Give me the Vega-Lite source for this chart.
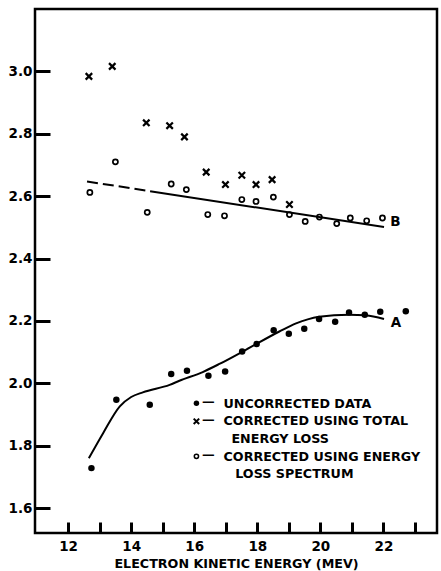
{
  "$schema": "https://vega.github.io/schema/vega-lite/v6.json",
  "width": 402,
  "height": 524,
  "autosize": "none",
  "padding": {"left": 35, "top": 9, "right": 4, "bottom": 38},
  "background": "white",
  "config": {
    "view": {"stroke": "black", "strokeWidth": 2.5},
    "axis": {
      "labelFont": "DejaVu Sans", "labelFontWeight": "bold", "labelFontSize": 13.5, "labelColor": "black",
      "titleFont": "DejaVu Sans", "titleFontWeight": "bold", "titleFontSize": 12.7, "titleColor": "black"
    }
  },
  "datasets": {
    "pts": [
      {"series": "dot", "e": 12.74, "r": 1.728}, {"series": "dot", "e": 13.53, "r": 1.947},
      {"series": "dot", "e": 14.59, "r": 1.931}, {"series": "dot", "e": 15.27, "r": 2.030},
      {"series": "dot", "e": 15.77, "r": 2.040}, {"series": "dot", "e": 16.45, "r": 2.024},
      {"series": "dot", "e": 16.98, "r": 2.038}, {"series": "dot", "e": 17.52, "r": 2.102},
      {"series": "dot", "e": 17.98, "r": 2.126}, {"series": "dot", "e": 18.52, "r": 2.170},
      {"series": "dot", "e": 19.00, "r": 2.159}, {"series": "dot", "e": 19.49, "r": 2.175},
      {"series": "dot", "e": 19.96, "r": 2.206}, {"series": "dot", "e": 20.47, "r": 2.197},
      {"series": "dot", "e": 20.91, "r": 2.227}, {"series": "dot", "e": 21.41, "r": 2.220},
      {"series": "dot", "e": 21.90, "r": 2.229}, {"series": "dot", "e": 22.71, "r": 2.231},
      {"series": "cross", "e": 12.66, "r": 2.984}, {"series": "cross", "e": 13.40, "r": 3.016},
      {"series": "cross", "e": 14.48, "r": 2.835}, {"series": "cross", "e": 15.22, "r": 2.826},
      {"series": "cross", "e": 15.69, "r": 2.790}, {"series": "cross", "e": 16.38, "r": 2.677},
      {"series": "cross", "e": 16.99, "r": 2.637}, {"series": "cross", "e": 17.51, "r": 2.667},
      {"series": "cross", "e": 17.96, "r": 2.637}, {"series": "cross", "e": 18.47, "r": 2.653},
      {"series": "cross", "e": 19.02, "r": 2.573},
      {"series": "circle", "e": 12.69, "r": 2.612}, {"series": "circle", "e": 13.50, "r": 2.710},
      {"series": "circle", "e": 14.51, "r": 2.548}, {"series": "circle", "e": 15.27, "r": 2.639},
      {"series": "circle", "e": 15.75, "r": 2.621}, {"series": "circle", "e": 16.43, "r": 2.541},
      {"series": "circle", "e": 16.96, "r": 2.537}, {"series": "circle", "e": 17.51, "r": 2.589},
      {"series": "circle", "e": 17.96, "r": 2.583}, {"series": "circle", "e": 18.51, "r": 2.597},
      {"series": "circle", "e": 19.02, "r": 2.541}, {"series": "circle", "e": 19.52, "r": 2.519},
      {"series": "circle", "e": 19.97, "r": 2.533}, {"series": "circle", "e": 20.52, "r": 2.512},
      {"series": "circle", "e": 20.95, "r": 2.530}, {"series": "circle", "e": 21.47, "r": 2.521},
      {"series": "circle", "e": 21.97, "r": 2.530}
    ],
    "curves": [
      {"curve": "A", "e": 12.66, "r": 1.760}, {"curve": "A", "e": 13.11, "r": 1.840},
      {"curve": "A", "e": 13.64, "r": 1.926}, {"curve": "A", "e": 14.00, "r": 1.956},
      {"curve": "A", "e": 14.37, "r": 1.971}, {"curve": "A", "e": 15.22, "r": 1.995},
      {"curve": "A", "e": 15.53, "r": 2.008}, {"curve": "A", "e": 16.27, "r": 2.036},
      {"curve": "A", "e": 16.80, "r": 2.062}, {"curve": "A", "e": 17.65, "r": 2.108},
      {"curve": "A", "e": 18.70, "r": 2.166}, {"curve": "A", "e": 19.23, "r": 2.192},
      {"curve": "A", "e": 19.60, "r": 2.205}, {"curve": "A", "e": 19.96, "r": 2.213},
      {"curve": "A", "e": 20.91, "r": 2.220}, {"curve": "A", "e": 21.44, "r": 2.218},
      {"curve": "A", "e": 22.02, "r": 2.206},
      {"curve": "Bdash", "e": 12.60, "r": 2.647}, {"curve": "Bdash", "e": 14.60, "r": 2.616},
      {"curve": "B", "e": 14.60, "r": 2.616}, {"curve": "B", "e": 22.02, "r": 2.501}
    ],
    "key": [
      {"sym": "dot", "e": 16.07, "r": 1.936},
      {"sym": "cross", "e": 16.07, "r": 1.878},
      {"sym": "circle", "e": 16.07, "r": 1.766}
    ],
    "keytext": [
      {"t": "UNCORRECTED DATA", "e": 16.93, "r": 1.934},
      {"t": "CORRECTED USING TOTAL", "e": 16.93, "r": 1.878},
      {"t": "ENERGY LOSS", "e": 17.18, "r": 1.821},
      {"t": "CORRECTED USING ENERGY", "e": 16.93, "r": 1.764},
      {"t": "LOSS SPECTRUM", "e": 17.30, "r": 1.710}
    ],
    "tags": [
      {"t": "A", "e": 22.40, "r": 2.193},
      {"t": "B", "e": 22.38, "r": 2.518}
    ]
  },
  "encoding": {
    "x": {"field": "e", "type": "quantitative", "scale": {"domain": [10.95, 23.7], "nice": false, "zero": false},
      "axis": {"values": [12, 13, 14, 15, 16, 17, 18, 19, 20, 21, 22, 23],
        "labelExpr": "datum.value % 2 === 0 ? datum.label : ''", "labelOverlap": false, "labelFlush": false,
        "domain": false, "grid": false, "offset": -11, "tickSize": 11, "tickColor": "black", "tickWidth": 3,
        "labelPadding": 6, "title": "ELECTRON KINETIC ENERGY (MEV)", "titlePadding": 5}},
    "y": {"field": "r", "type": "quantitative", "scale": {"domain": [1.52, 3.2], "nice": false, "zero": false},
      "axis": {"values": [1.6, 1.8, 2.0, 2.2, 2.4, 2.6, 2.8, 3.0], "format": ".1f", "labelOverlap": false, "labelFlush": false,
        "domain": false, "grid": false, "offset": -15, "tickSize": 15, "tickColor": "black", "tickWidth": 3,
        "labelPadding": 3, "title": null}}
  },
  "layer": [
    {
      "data": {"name": "curves"},
      "transform": [{"filter": "datum.curve === 'A'"}],
      "mark": {"type": "line", "interpolate": "monotone", "stroke": "black", "strokeWidth": 2},
      "encoding": {}
    },
    {
      "data": {"name": "curves"},
      "transform": [{"filter": "datum.curve === 'Bdash'"}],
      "mark": {"type": "line", "stroke": "black", "strokeWidth": 2, "strokeDash": [11, 5]},
      "encoding": {}
    },
    {
      "data": {"name": "curves"},
      "transform": [{"filter": "datum.curve === 'B'"}],
      "mark": {"type": "line", "stroke": "black", "strokeWidth": 2},
      "encoding": {}
    },
    {
      "data": {"name": "pts"},
      "transform": [{"filter": "datum.series === 'dot'"}],
      "mark": {"type": "point", "shape": "circle", "filled": true, "fill": "black", "size": 42, "opacity": 1}
    },
    {
      "data": {"name": "pts"},
      "transform": [{"filter": "datum.series === 'circle'"}],
      "mark": {"type": "point", "shape": "circle", "filled": false, "stroke": "black", "strokeWidth": 1.7, "size": 26, "opacity": 1}
    },
    {
      "data": {"name": "pts"},
      "transform": [{"filter": "datum.series === 'cross'"}],
      "mark": {"type": "point", "shape": "M-1,-1L1,1M-1,1L1,-1", "filled": false, "stroke": "black", "strokeWidth": 2.2, "size": 42, "opacity": 1}
    },
    {
      "data": {"name": "key"},
      "transform": [{"filter": "datum.sym === 'dot'"}],
      "mark": {"type": "point", "shape": "circle", "filled": true, "fill": "black", "size": 30, "opacity": 1}
    },
    {
      "data": {"name": "key"},
      "transform": [{"filter": "datum.sym === 'circle'"}],
      "mark": {"type": "point", "shape": "circle", "filled": false, "stroke": "black", "strokeWidth": 1.5, "size": 18, "opacity": 1}
    },
    {
      "data": {"name": "key"},
      "transform": [{"filter": "datum.sym === 'cross'"}],
      "mark": {"type": "point", "shape": "M-1,-1L1,1M-1,1L1,-1", "filled": false, "stroke": "black", "strokeWidth": 2, "size": 30, "opacity": 1}
    },
    {
      "data": {"name": "key"},
      "mark": {"type": "text", "text": "—", "align": "center", "baseline": "middle", "dx": 12, "dy": -1,
        "font": "DejaVu Sans", "fontWeight": "bold", "fontSize": 12.7, "fill": "black"}
    },
    {
      "data": {"name": "keytext"},
      "mark": {"type": "text", "align": "left", "baseline": "middle",
        "font": "DejaVu Sans", "fontWeight": "bold", "fontSize": 12.7, "fill": "black"},
      "encoding": {"text": {"field": "t"}}
    },
    {
      "data": {"name": "tags"},
      "mark": {"type": "text", "align": "center", "baseline": "middle",
        "font": "DejaVu Sans", "fontWeight": "bold", "fontSize": 13.5, "fill": "black"},
      "encoding": {"text": {"field": "t"}}
    }
  ]
}
